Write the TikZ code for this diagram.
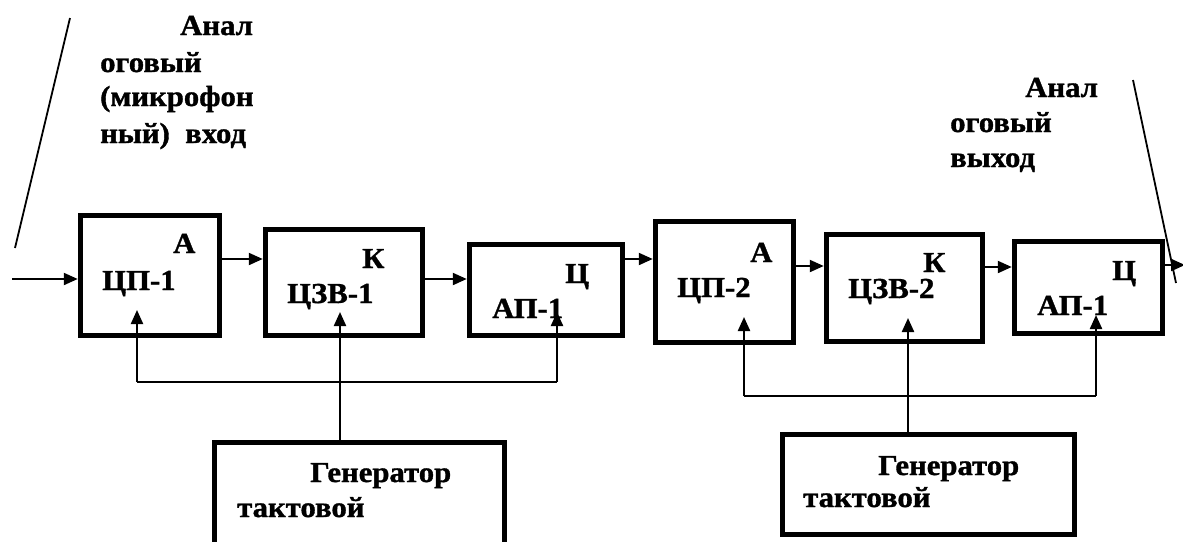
\documentclass[tikz,border=0pt]{standalone}
\usepackage{fontspec}
\setmainfont{Liberation Serif}[FakeStretch=1.06,BoldFeatures={FakeBold=1.2}]
\usetikzlibrary{arrows.meta}
\begin{document}
\begin{tikzpicture}[x=1pt,y=-1pt,
  blk/.style={draw,line width=5.5pt,inner sep=0pt,minimum width=#1},
  lbl/.style={anchor=base west,inner sep=0pt,font=\fontsize{29}{34}\selectfont\bfseries},
  conn/.style={line width=2.2pt},
  arr/.style={line width=2.2pt,-{Triangle[length=14pt,width=12pt]}},
  thin/.style={line width=1.8pt}]
\useasboundingbox (0,0) rectangle (1183,541);
\clip (0,0) rectangle (1183,541);
\fill[white] (0,0) rectangle (1183,541);
% blocks
\node[blk=139pt,minimum height=120pt] (b1) at (150,275.5) {};
\node[blk=157pt,minimum height=106pt] (b2) at (344,282.5) {};
\node[blk=153pt,minimum height=91pt]  (b3) at (546,290) {};
\node[blk=138pt,minimum height=121pt] (b4) at (724.5,282) {};
\node[blk=156pt,minimum height=107pt] (b5) at (904.5,288) {};
\node[blk=148pt,minimum height=92pt]  (b6) at (1088.5,287.5) {};
\node[blk=290pt,minimum height=115pt] (g1) at (359.5,500) {};
\node[blk=292pt,minimum height=100pt] (g2) at (928.5,484.5) {};
% block labels
\node[lbl] (b1a) at (173,253) {А};
\node[lbl] (b1t) at (102,290) {ЦП-1};
\node[lbl] (b2a) at (362,268) {К};
\node[lbl] (b2t) at (287,303) {ЦЗВ-1};
\node[lbl] (b3a) at (565,283) {Ц};
\node[lbl] (b3t) at (492,318) {АП-1};
\node[lbl] (b4a) at (750,262) {А};
\node[lbl] (b4t) at (677,297) {ЦП-2};
\node[lbl] (b5a) at (923,272) {К};
\node[lbl] (b5t) at (848,298) {ЦЗВ-2};
\node[lbl] (b6a) at (1112,280) {Ц};
\node[lbl] (b6t) at (1037,315) {АП-1};
\node[lbl] (g1a) at (310,482) {Генератор};
\node[lbl] (g1b) at (237,517) {тактовой};
\node[lbl] (g2a) at (878,475) {Генератор};
\node[lbl] (g2b) at (803,507) {тактовой};
% captions
\node[lbl] (in1) at (180,35) {Анал};
\node[lbl] (in2) at (100,72) {оговый};
\node[lbl] (in3) at (100,106) {(микрофон};
\node[lbl] (in4) at (100,143) {ный)\ \ вход};
\node[lbl] (out1) at (1025,97) {Анал};
\node[lbl] (out2) at (950,132) {оговый};
\node[lbl] (out3) at (950,167) {выход};
% pointer lines
\coordinate (pl1) at (70,18);
\coordinate (pl2) at (15,248);
\coordinate (pr1) at (1133,80);
\coordinate (pr2) at (1176,283);
\draw[thin] (pl1) -- (pl2);
\draw[thin] (pr1) -- (pr2);
% signal chain
\coordinate (inp) at (12,279);
\coordinate (outp) at (1185,265);
\draw[arr] (inp) -- (b1.west |- inp);
\draw[arr] (b1.east |- 0,259) -- (b2.west |- 0,259);
\draw[arr] (b2.east |- 0,279) -- (b3.west |- 0,279);
\draw[arr] (b3.east |- 0,259) -- (b4.west |- 0,259);
\draw[arr] (b4.east |- 0,266) -- (b5.west |- 0,266);
\draw[arr] (b5.east |- 0,267) -- (b6.west |- 0,267);
\draw[arr] (b6.east |- outp) -- (outp);
% clock distribution 1
\coordinate (t1) at (137,310);
\coordinate (t2) at (340,312);
\coordinate (t3) at (557,312);
\coordinate (c1l) at (137,382);
\coordinate (c1r) at (557,382);
\draw[conn] (c1l) -- (c1r);
\draw[arr] (c1l) -- (t1);
\draw[arr] (c1r) -- (t3);
\draw[arr] (g1.north -| t2) -- (t2);
% clock distribution 2
\coordinate (t4) at (744,317);
\coordinate (t5) at (908,318);
\coordinate (t6) at (1096,315);
\coordinate (c2l) at (744,396);
\coordinate (c2r) at (1096,396);
\draw[conn] (c2l) -- (c2r);
\draw[arr] (c2l) -- (t4);
\draw[arr] (c2r) -- (t6);
\draw[arr] (g2.north -| t5) -- (t5);
\end{tikzpicture}
\end{document}
